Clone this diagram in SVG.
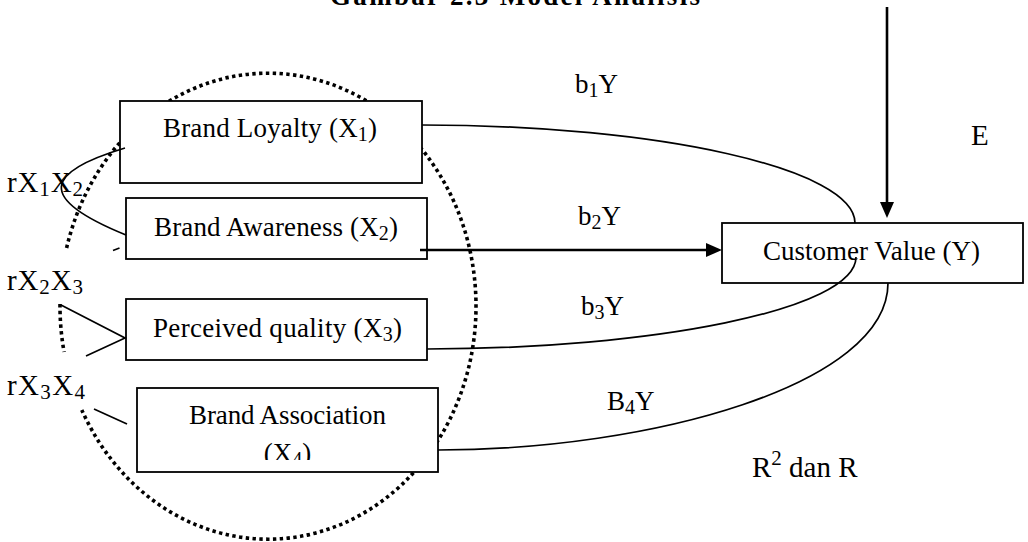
<svg xmlns="http://www.w3.org/2000/svg" width="1028" height="542" viewBox="0 0 1028 542">
<style>
text{font-family:"Liberation Serif","Times New Roman",serif;font-size:27px;fill:#000}
.box{fill:#fff;stroke:#000;stroke-width:1.8}
.ln{fill:none;stroke:#000;stroke-width:1.7}
.thick{fill:none;stroke:#000;stroke-width:2.6}
.dot{fill:none;stroke:#000;stroke-width:3.6;stroke-dasharray:3.4 3.4}
.sub{font-size:20px}
.big{font-size:29px}
.big .sub{font-size:21px}
.title{font-weight:bold}
</style>
<defs>
<marker id="ah" viewBox="0 0 16 14" refX="2" refY="7" markerWidth="16" markerHeight="14" markerUnits="userSpaceOnUse" orient="auto">
<path d="M0,0 L16,7 L0,14 z" fill="#000"/>
</marker>
<clipPath id="clipX4"><rect x="137" y="388" width="301" height="72"/></clipPath>
</defs>
<rect width="1028" height="542" fill="#fff"/>
<text class="title" x="330" y="4.5" textLength="370">Gambar 2.3 Model Analisis</text>
<g id="ellipse">
<path class="dot" d="M66.6,248 A208,233 0 1 1 81.8,410"/>
<path class="dot" d="M60,304 A208,233 0 0 0 64.1,352"/>
</g>
<g id="brand-loyalty">
<rect class="box" x="120" y="101" width="302" height="82"/>
<text x="270" y="137" text-anchor="middle" textLength="214">Brand Loyalty (X<tspan class="sub" dy="4">1</tspan><tspan dy="-4">)</tspan></text>
</g>
<g id="brand-awareness">
<rect class="box" x="126" y="198" width="301" height="61"/>
<text x="276" y="236" text-anchor="middle" textLength="244">Brand Awareness (X<tspan class="sub" dy="4">2</tspan><tspan dy="-4">)</tspan></text>
</g>
<g id="perceived-quality">
<rect class="box" x="126" y="299" width="301" height="61"/>
<text x="277.5" y="337" text-anchor="middle" textLength="249">Perceived quality (X<tspan class="sub" dy="4">3</tspan><tspan dy="-4">)</tspan></text>
</g>
<g id="brand-association">
<rect class="box" x="137" y="388" width="301" height="84"/>
<text x="287.5" y="424" text-anchor="middle" textLength="197">Brand Association</text>
<text x="287.5" y="462" text-anchor="middle" clip-path="url(#clipX4)">(X<tspan class="sub" dy="4">4</tspan><tspan dy="-4">)</tspan></text>
</g>
<g id="customer-value">
<rect class="box" x="722" y="223" width="301" height="60"/>
<text x="871.5" y="260" text-anchor="middle" textLength="217">Customer Value (Y)</text>
</g>
<g id="labels">
<text class="big" x="7" y="192" textLength="76">rX<tspan class="sub" dy="4">1</tspan><tspan dy="-4">X</tspan><tspan class="sub" dy="4">2</tspan></text>
<text class="big" x="7" y="290" textLength="76">rX<tspan class="sub" dy="4">2</tspan><tspan dy="-4">X</tspan><tspan class="sub" dy="4">3</tspan></text>
<text class="big" x="7" y="395" textLength="78">rX<tspan class="sub" dy="4">3</tspan><tspan dy="-4">X</tspan><tspan class="sub" dy="4">4</tspan></text>
<text x="575" y="93">b<tspan class="sub" dy="4">1</tspan><tspan dy="-4">Y</tspan></text>
<text x="578" y="225">b<tspan class="sub" dy="4">2</tspan><tspan dy="-4">Y</tspan></text>
<text x="581" y="315">b<tspan class="sub" dy="4">3</tspan><tspan dy="-4">Y</tspan></text>
<text x="607" y="410">B<tspan class="sub" dy="4">4</tspan><tspan dy="-4">Y</tspan></text>
<text class="big" x="971" y="145">E</text>
<text class="big" x="752" y="477">R<tspan class="sub" dy="-12">2</tspan><tspan dy="12"> dan R</tspan></text>
</g>
<g id="connectors">
<path class="thick" d="M887,7 L887,204" marker-end="url(#ah)"/>
<path class="thick" d="M420,250 L708,250" marker-end="url(#ah)"/>
<path class="ln" d="M422,125 C660,125 855,169 855,223"/>
<path class="ln" d="M427,349 C650,349 856,310 856,257"/>
<path class="ln" d="M438,450 C650,450 888,385 888,283"/>
<path class="ln" d="M125,148 C45,172 35,198 126,235"/>
<path class="ln" d="M113,250.5 L119.5,248"/>
<path class="ln" d="M61,305 L125,338 L86,356"/>
<path class="ln" d="M94,409 L127,424"/>
</g>
</svg>
